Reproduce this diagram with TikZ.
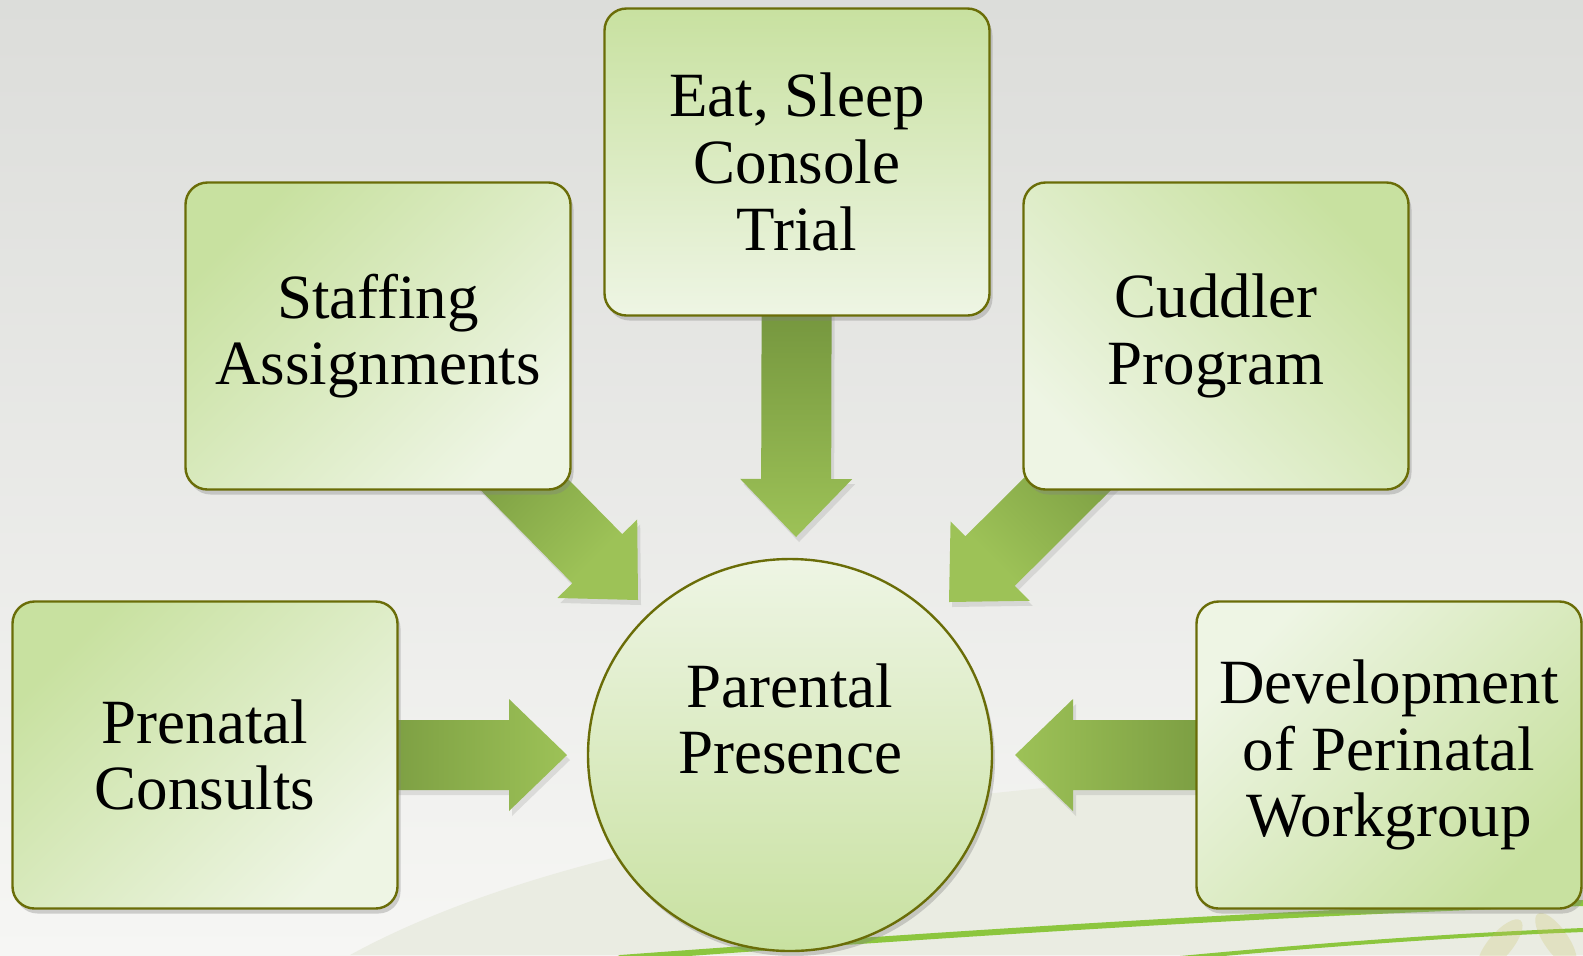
\documentclass[tikz,border=0pt]{standalone}
\usepackage{fontspec}
\setmainfont{Liberation Serif}
\usetikzlibrary{calc,shapes.geometric,shadows}

\definecolor{BoxDark}{HTML}{C8E1A0}
\definecolor{BoxLight}{HTML}{EEF5E4}
\definecolor{BoxEdge}{HTML}{6A6D08}
\definecolor{ArrowDark}{HTML}{5B7A2E}
\definecolor{ArrowLight}{HTML}{9DC257}
\definecolor{BgTop}{HTML}{DCDDDA}
\definecolor{BgBottom}{HTML}{F6F6F4}
\definecolor{BgBand}{HTML}{EAECE2}
\definecolor{LeafGreen}{HTML}{8CC63E}

\pgfdeclarelayer{bg}
\pgfdeclarelayer{arrows}
\pgfsetlayers{bg,arrows,main}

% block arrow: tail at #1, tip at #2, shading turned by #3
\newcommand\BlockArrow[3]{%
	\coordinate (ba) at ($(#2)!29pt!(#1)$);
	\shade [ArrowStyle, shading angle=#3]
		($(#1)!17.5pt!90:(#2)$) -- ($(ba)!17.5pt!90:(#2)$) -- ($(ba)!28pt!90:(#2)$)
		-- (#2) -- ($(ba)!28pt!-90:(#2)$) -- ($(ba)!17.5pt!-90:(#2)$)
		-- ($(#1)!17.5pt!-90:(#2)$) -- cycle;}

\begin{document}
\begin{tikzpicture}[
		x=0.5pt, y=-0.5pt,
		font=\fontsize{31.5}{33.3}\selectfont,
		BoxStyle/.style={draw=BoxEdge, line width=1.2pt, rounded corners=11pt,
			top color=BoxDark, bottom color=BoxLight,
			minimum width=192.5pt, minimum height=153.5pt, align=center,
			drop shadow={shadow xshift=1.5pt, shadow yshift=-2.5pt, opacity=.35}},
		HubStyle/.style={ellipse, draw=BoxEdge, line width=1.2pt,
			top color=BoxLight, bottom color=BoxDark,
			minimum width=202pt, minimum height=196pt,
			drop shadow={shadow xshift=1.5pt, shadow yshift=-2.5pt, opacity=.35}},
		ArrowStyle/.style={top color=ArrowDark, bottom color=ArrowLight,
			drop shadow={shadow xshift=1.5pt, shadow yshift=-2.5pt, opacity=.2}},
		LineStyle/.style={draw=LeafGreen, line cap=round},
		]
		\useasboundingbox (0,0) rectangle (1583,955);
		
		% boxes
		\node [BoxStyle] (esc) at (797,162) {Eat, Sleep\\Console\\Trial};
		\node [BoxStyle, shading angle=45] (staff) at (378,336) {Staffing\\Assignments};
		\node [BoxStyle, shading angle=-45] (cuddle) at (1216,336) {Cuddler\\Program};
		\node [BoxStyle, shading angle=45] (prenatal) at (205,755) {Prenatal\\Consults};
		\node [BoxStyle, shading angle=-135] (perinatal) at (1389,755) {Development\\of Perinatal\\Workgroup};
		\node [HubStyle] (parent) at (790,755) {};
		\node [align=center] (parentlabel) at (790,719) {Parental\\Presence};
		
		% arrows
		\begin{pgfonlayer}{arrows}
			\coordinate (tipEsc) at (796,537);
			\coordinate (tipStaff) at (638,600);
			\coordinate (tipCuddle) at (949,602);
			\coordinate (tipPrenatal) at (567,755);
			\coordinate (tipPerinatal) at (1015,755);
			\BlockArrow{esc.center}{tipEsc}{0}
			\BlockArrow{staff.center}{tipStaff}{45}
			\BlockArrow{cuddle.center}{tipCuddle}{-45}
			\BlockArrow{prenatal.center}{tipPrenatal}{90}
			\BlockArrow{perinatal.center}{tipPerinatal}{-90}
		\end{pgfonlayer}
		
		% backdrop
		\begin{pgfonlayer}{bg}
			\shade [top color=BgTop, bottom color=BgBottom] (0,0) rectangle (1583,955);
			\fill [BgBand] (350,955) .. controls (560,840) and (950,770) .. (1583,760)
				-- (1583,955) -- cycle;
			\draw [LineStyle, line width=3pt] (620,958) .. controls (1000,930) and (1300,912) .. (1583,903);
			\draw [LineStyle, line width=2pt] (1180,958) .. controls (1350,942) and (1480,934) .. (1583,930);
			\fill [olive!50, opacity=.25, rotate around={50:(1500,945)}] (1500,945) ellipse (32 and 12);
			\fill [olive!50, opacity=.25, rotate around={-55:(1556,940)}] (1556,940) ellipse (32 and 12);
		\end{pgfonlayer}
		
	\end{tikzpicture}
\end{document}
